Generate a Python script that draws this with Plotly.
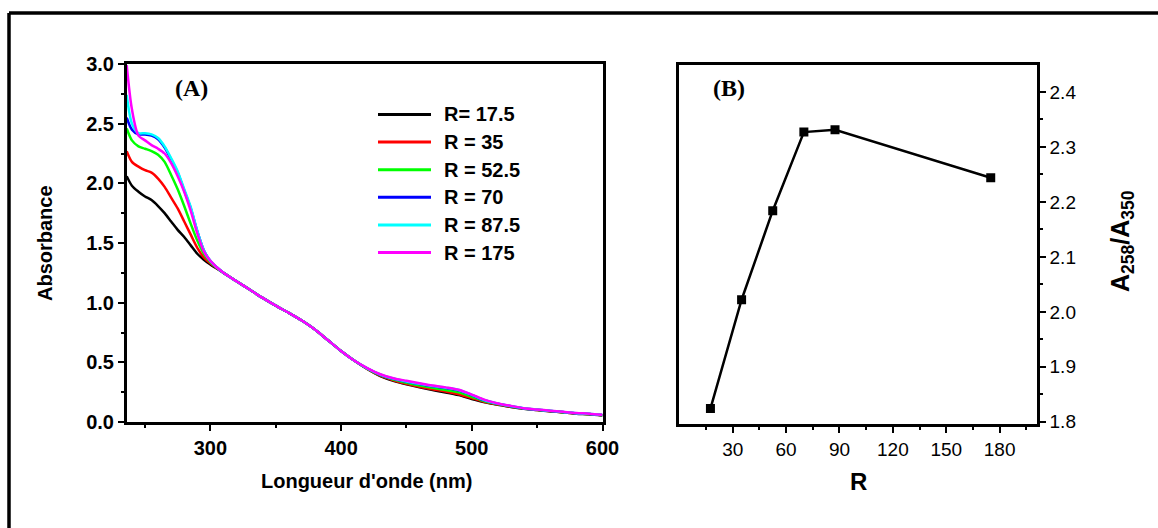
import plotly.graph_objects as go

# ---------------- data ----------------
wavelength = [236, 240, 245, 250, 255, 260, 265, 270, 275, 280, 285, 290, 295,
              300, 310, 320, 330, 340, 350, 360, 370, 380, 390, 400, 410, 420,
              430, 440, 450, 460, 470, 480, 490, 500, 510, 520, 530, 540, 550,
              560, 570, 580, 590, 600]

abs_r17_5 = [2.06, 1.98, 1.93, 1.89, 1.86, 1.81, 1.75, 1.68, 1.61, 1.55, 1.48, 1.41, 1.36,
             1.32, 1.25, 1.18, 1.11, 1.04, 0.975, 0.915, 0.85, 0.775, 0.685, 0.595, 0.515, 0.445,
             0.385, 0.345, 0.315, 0.29, 0.268, 0.248, 0.225, 0.193, 0.165, 0.145, 0.125, 0.11, 0.10,
             0.09, 0.08, 0.07, 0.065, 0.055]
abs_r35 = [2.27, 2.18, 2.14, 2.11, 2.09, 2.04, 1.97, 1.88, 1.79, 1.68, 1.57, 1.46, 1.38,
           1.33, 1.25, 1.18, 1.11, 1.04, 0.975, 0.915, 0.85, 0.775, 0.685, 0.595, 0.515, 0.445,
           0.388, 0.35, 0.32, 0.295, 0.274, 0.255, 0.233, 0.2, 0.168, 0.147, 0.127, 0.112, 0.101,
           0.091, 0.081, 0.071, 0.066, 0.056]
abs_r52_5 = [2.46, 2.36, 2.31, 2.29, 2.27, 2.24, 2.18, 2.07, 1.95, 1.81, 1.66, 1.52, 1.41,
             1.34, 1.25, 1.18, 1.11, 1.04, 0.975, 0.915, 0.85, 0.775, 0.685, 0.595, 0.515, 0.447,
             0.392, 0.355, 0.328, 0.305, 0.286, 0.268, 0.248, 0.212, 0.173, 0.15, 0.13, 0.113, 0.102,
             0.092, 0.082, 0.072, 0.067, 0.057]
abs_r70 = [2.55, 2.45, 2.41, 2.41, 2.40, 2.37, 2.30, 2.20, 2.09, 1.94, 1.79, 1.60, 1.44,
           1.35, 1.25, 1.18, 1.11, 1.04, 0.975, 0.915, 0.85, 0.775, 0.685, 0.595, 0.515, 0.449,
           0.396, 0.362, 0.338, 0.318, 0.3, 0.284, 0.265, 0.225, 0.18, 0.153, 0.132, 0.114, 0.103,
           0.093, 0.083, 0.073, 0.068, 0.058]
abs_r87_5 = [2.74, 2.50, 2.42, 2.42, 2.41, 2.38, 2.31, 2.21, 2.10, 1.95, 1.80, 1.60, 1.44,
             1.35, 1.25, 1.18, 1.11, 1.04, 0.975, 0.915, 0.85, 0.775, 0.685, 0.595, 0.515, 0.45,
             0.398, 0.364, 0.34, 0.32, 0.302, 0.287, 0.268, 0.228, 0.182, 0.154, 0.133, 0.115, 0.104,
             0.094, 0.084, 0.074, 0.069, 0.059]
abs_r175 = [2.99, 2.62, 2.40, 2.36, 2.32, 2.29, 2.25, 2.17, 2.06, 1.93, 1.77, 1.58, 1.43,
            1.35, 1.25, 1.18, 1.11, 1.04, 0.975, 0.915, 0.85, 0.775, 0.685, 0.595, 0.515, 0.452,
            0.40, 0.367, 0.345, 0.325, 0.306, 0.29, 0.27, 0.23, 0.185, 0.155, 0.135, 0.115, 0.105,
            0.095, 0.085, 0.075, 0.07, 0.06]

series_names = ["R= 17.5", "R = 35", "R = 52.5", "R = 70", "R = 87.5", "R = 175"]
series_values = [abs_r17_5, abs_r35, abs_r52_5, abs_r70, abs_r87_5, abs_r175]
series_colors = ["#000000", "#ff0000", "#00ff00", "#0000ff", "#00ffff", "#ff00ff"]

ratio_R = [17.5, 35, 52.5, 70, 87.5, 175]
ratio_A258_A350 = [1.824, 2.022, 2.184, 2.327, 2.331, 2.244]

ticks_A_x = [300, 400, 500, 600]
ticks_B_x = [30, 60, 90, 120, 150, 180]
minor_B_x = [15, 45, 75, 105, 135, 165, 195]

# ---------------- figure ----------------
W, H = 1158, 528
FONT = "Liberation Sans"


def px(x):
    return x / W


def py(y):
    return 1 - y / H


fig = go.Figure()

for name, vals, col in zip(series_names, series_values, series_colors):
    fig.add_trace(go.Scatter(x=wavelength, y=vals, mode="lines", name=name,
                             line=dict(color=col, width=2.5, shape="spline", smoothing=0.8),
                             xaxis="x", yaxis="y", showlegend=False))

fig.add_trace(go.Scatter(x=ratio_R, y=ratio_A258_A350, mode="lines+markers",
                         line=dict(color="black", width=2.5),
                         marker=dict(symbol="square", size=9, color="black"),
                         xaxis="x2", yaxis="y2", showlegend=False))

axis_common = dict(showline=True, linecolor="black", linewidth=2.5, mirror=True,
                   ticks="outside", tickcolor="black", tickwidth=2, ticklen=6,
                   showgrid=False, zeroline=False, automargin=False)

fig.update_layout(
    width=W, height=H,
    margin=dict(l=0, r=0, t=0, b=0),
    paper_bgcolor="white", plot_bgcolor="white",
    font=dict(family=FONT, color="black"),
    xaxis=dict(domain=[px(126.7), px(602.5)], range=[236, 600], anchor="y",
               tickmode="array", tickvals=ticks_A_x,
               tickfont=dict(size=20, weight="bold", family=FONT, color="black"),
               minor=dict(ticks="outside", dtick=50, tick0=0, ticklen=3, tickwidth=2,
                          tickcolor="black"),
               **axis_common),
    yaxis=dict(domain=[py(422), py(64)], range=[0, 3], anchor="x",
               dtick=0.5, tick0=0, tickformat=".1f",
               tickfont=dict(size=20, weight="bold", family=FONT, color="black"),
               minor=dict(ticks="outside", dtick=0.25, tick0=0, ticklen=3, tickwidth=2,
                          tickcolor="black"),
               **axis_common),
    xaxis2=dict(domain=[px(679.3), px(1037)], range=[0, 201], anchor="y2",
                tickmode="array", tickvals=ticks_B_x,
                tickfont=dict(size=19, family=FONT, color="black"),
                minor=dict(ticks="outside", tickmode="array", tickvals=minor_B_x,
                           ticklen=3, tickwidth=2, tickcolor="black"),
                **axis_common),
    yaxis2=dict(domain=[py(424), py(65)], range=[1.796, 2.449], anchor="x2", side="right",
                dtick=0.1, tick0=0, tickformat=".1f",
                tickfont=dict(size=19, family=FONT, color="black"),
                minor=dict(ticks="outside", dtick=0.05, tick0=0, ticklen=3, tickwidth=2,
                           tickcolor="black"),
                **axis_common),
)

# outer frame
fig.add_shape(type="line", xref="paper", yref="paper", x0=px(9), y0=0, x1=px(9), y1=py(13),
              line=dict(color="black", width=3.5))
fig.add_shape(type="line", xref="paper", yref="paper", x0=px(9), y0=py(13), x1=1, y1=py(13),
              line=dict(color="black", width=3.5))

# legend (manual, to match the long line samples)
for i, (name, col) in enumerate(zip(series_names, series_colors)):
    yc = 114.5 + i * 27.6
    fig.add_shape(type="line", xref="paper", yref="paper",
                  x0=px(378), x1=px(431), y0=py(yc), y1=py(yc),
                  line=dict(color=col, width=3))
    fig.add_annotation(xref="paper", yref="paper", x=px(442), y=py(yc), text=name,
                       showarrow=False, xanchor="left", yanchor="middle",
                       font=dict(size=20, weight="bold", family=FONT, color="black"))

annots = [
    dict(x=px(191), y=py(88), text="(A)", font=dict(size=24, weight="bold", family="Liberation Serif")),
    dict(x=px(729), y=py(88), text="(B)", font=dict(size=24, weight="bold", family="Liberation Serif")),
    dict(x=px(45), y=py(243), text="Absorbance", textangle=-90,
         font=dict(size=20, weight="bold", family=FONT)),
    dict(x=px(366), y=py(481), text="Longueur d'onde (nm)",
         font=dict(size=20, weight="bold", family=FONT)),
    dict(x=px(858), y=py(481), text="R", font=dict(size=24, weight="bold", family=FONT)),
    dict(x=px(1122), y=py(241), text="A<sub>258</sub>/A<sub>350</sub>", textangle=-90,
         font=dict(size=25, weight="bold", family=FONT)),
]
for a in annots:
    a["font"]["color"] = "black"
    fig.add_annotation(xref="paper", yref="paper", showarrow=False,
                       xanchor="center", yanchor="middle", **a)

fig.write_html("out.html",
               config={"displayModeBar": False},
               post_script="document.body.style.margin='0';document.body.style.overflow='hidden';")
